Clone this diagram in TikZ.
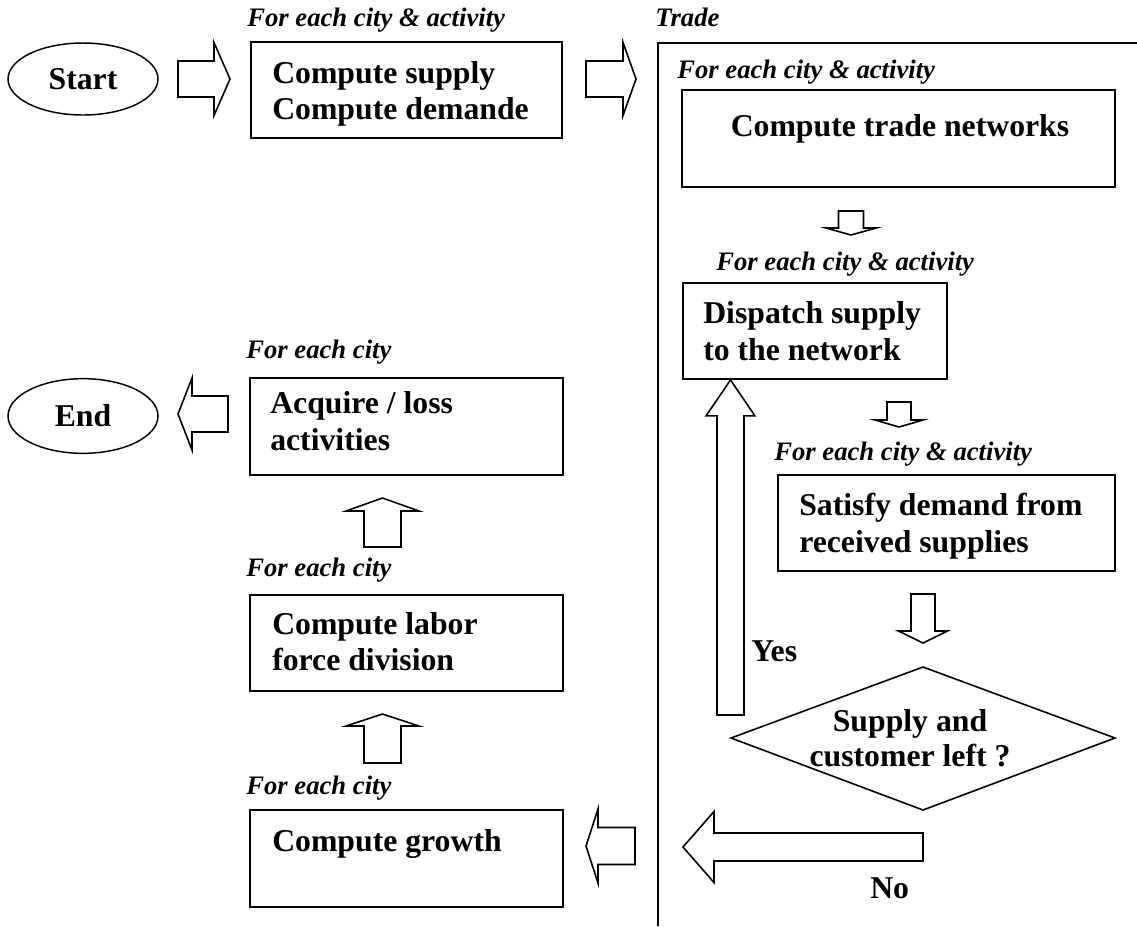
\documentclass[tikz,border=0pt]{standalone}
\usepackage{fontspec}
\setmainfont{Liberation Serif}
\usetikzlibrary{calc,fit,shapes.geometric}
% block arrow: #1 tail, #2 tip, #3 shaft half width, #4 head half width, #5 head length (px)
\newcommand\blockarr[5]{%
  \coordinate (hb) at ($(#2)!#5*0.75pt!(#1)$);
  \draw[arrline] ($(#1)!#3*0.75pt!90:(#2)$) -- ($(hb)!#3*0.75pt!90:(#2)$) --
    ($(hb)!#4*0.75pt!90:(#2)$) -- (#2) -- ($(hb)!#4*0.75pt!-90:(#2)$) --
    ($(hb)!#3*0.75pt!-90:(#2)$) -- ($(#1)!#3*0.75pt!-90:(#2)$) -- cycle;}
\tikzset{
  box/.style={draw, line width=1.4pt, inner sep=0pt},
  oval/.style={draw, ellipse, line width=1.1pt, inner sep=0pt, minimum width=112.5pt,
    font=\fontsize{23.8}{28}\selectfont\bfseries},
  arrline/.style={draw, line width=1.2pt, line join=miter, fill=white},
  btxt/.style={font=\fontsize{23.8}{28}\selectfont\bfseries, inner sep=0pt, anchor=base west},
  itl/.style={font=\fontsize{20}{24}\selectfont\bfseries\itshape, inner sep=0pt, anchor=base west},
}
\begin{document}
\begin{tikzpicture}[x=0.75pt, y=-0.75pt]
\useasboundingbox (0,0) rectangle (1137,926);

% Trade frame
\draw[line width=1.4pt] (658,926) -- (658,43) -- (1137,43);

% ovals
\node[oval, minimum height=54pt] (start) at (83,79) {Start};
\node[oval, minimum height=56pt] (end) at (83,416) {End};

% boxes
\node[box, fit={(251,42)(562,138)}] (supdem) {};
\node[box, fit={(250,378)(563,475)}] (acquire) {};
\node[box, fit={(250,595)(563,691)}] (labor) {};
\node[box, fit={(250,810)(563,907)}] (growth) {};
\node[box, fit={(682,90)(1115,187)}] (tradenet) {};
\node[box, fit={(683,283)(947,379)}] (dispatch) {};
\node[box, fit={(778,475)(1115,571)}] (satisfy) {};
\draw[line width=1.2pt] (731,738) coordinate (dW) -- (923,667) coordinate (dN) -- (1115,738) coordinate (dE) -- (923,810) coordinate (dS) -- cycle;

% box texts
\node[btxt] (t1a) at (272,83) {Compute supply};
\node[btxt] (t1b) at (272,119) {Compute demande};
\node[btxt] (t2a) at (270,413) {Acquire / loss};
\node[btxt] (t2b) at (270,450) {activities};
\node[btxt] (t3a) at (272,634) {Compute labor};
\node[btxt] (t3b) at (272,670) {force division};
\node[btxt] (t4a) at (272,851) {Compute growth};
\node[btxt, anchor=base] (t5a) at (900,136) {Compute trade networks};
\node[btxt] (t6a) at (703,323) {Dispatch supply};
\node[btxt] (t6b) at (703,360) {to the network};
\node[btxt] (t7a) at (799,515) {Satisfy demand from};
\node[btxt] (t7b) at (799,552) {received supplies};
\node[btxt, anchor=base] (t8a) at (910,731) {Supply and};
\node[btxt, anchor=base] (t8b) at (910,766) {customer left ?};
\node[btxt] (yes) at (751,661) {Yes};
\node[btxt] (no) at (870,898) {No};

% italic labels
\node[itl] (l1) at (247,26) {For each city \& activity};
\node[itl] (l2) at (655,26) {Trade};
\node[itl] (l3) at (677,78) {For each city \& activity};
\node[itl] (l4) at (716,270) {For each city \& activity};
\node[itl] (l5) at (774,460) {For each city \& activity};
\node[itl] (l6) at (246,358) {For each city};
\node[itl] (l7) at (246,576) {For each city};
\node[itl] (l8) at (246,794) {For each city};

% arrows
\coordinate (a1t) at (178,79);   \coordinate (a1h) at (230,79);
\coordinate (a2t) at (586,79);   \coordinate (a2h) at (636,79);
\coordinate (a3t) at (851,211);  \coordinate (a3h) at (851,235);
\coordinate (a4t) at (899,402);  \coordinate (a4h) at (899,427);
\coordinate (a5t) at (923,594);  \coordinate (a5h) at (923,643);
\coordinate (a6t) at (730.5,715); \coordinate (a6h) at (dispatch.south -| a6t);
\coordinate (a7t) at (923,847);  \coordinate (a7h) at (683,847);
\coordinate (a8t) at (635,846);  \coordinate (a8h) at (586,846);
\coordinate (a9t) at (382.5,763); \coordinate (a9h) at (382.5,714);
\coordinate (a10t) at (382.5,547); \coordinate (a10h) at (382.5,498);
\coordinate (a11t) at (228,414); \coordinate (a11h) at (178,414);
\blockarr{a1t}{a1h}{18}{36.5}{16}
\blockarr{a2t}{a2h}{18}{36.5}{13}
\blockarr{a3t}{a3h}{12.5}{25}{7}
\blockarr{a4t}{a4h}{12}{24}{7}
\blockarr{a5t}{a5h}{12}{24.5}{12}
\blockarr{a6t}{a6h}{13.5}{24.5}{36}
\blockarr{a7t}{a7h}{14}{35.5}{31}
\blockarr{a8t}{a8h}{18.5}{37}{12}
\blockarr{a9t}{a9h}{18.5}{36.5}{12}
\blockarr{a10t}{a10h}{18.5}{36.5}{13}
\blockarr{a11t}{a11h}{18}{36}{14}
\end{tikzpicture}
\end{document}
